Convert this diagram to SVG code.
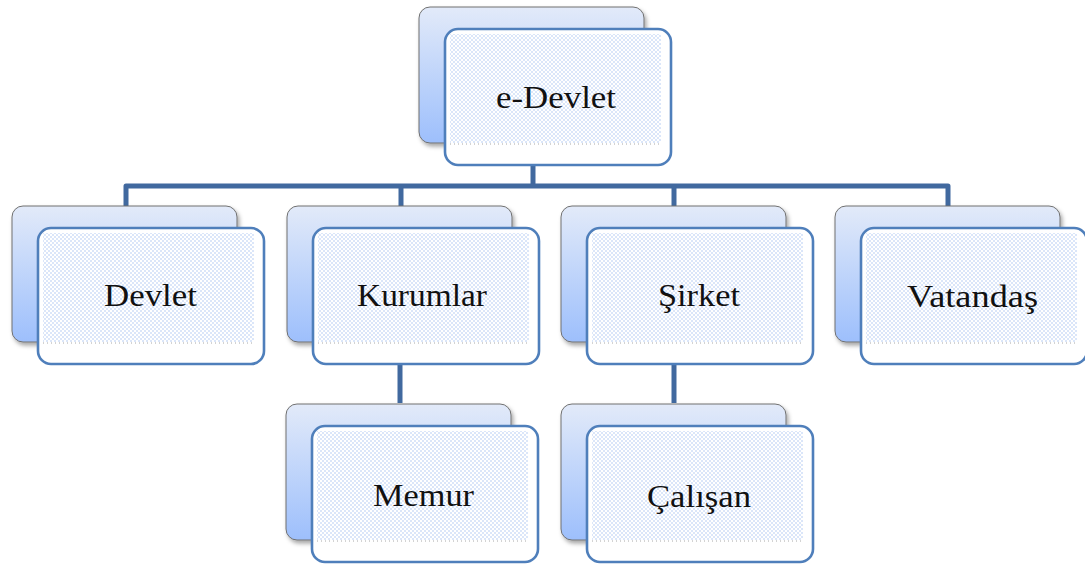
<svg xmlns="http://www.w3.org/2000/svg" width="1085" height="566" viewBox="0 0 1085 566">
<defs>
<linearGradient id="backGrad" x1="0" y1="0" x2="0" y2="1">
<stop offset="0" stop-color="#e2eaf9"/>
<stop offset="1" stop-color="#9dbffc"/>
</linearGradient>
<pattern id="dots" width="4" height="4" patternUnits="userSpaceOnUse">
<rect width="4" height="4" fill="#ffffff"/>
<circle cx="1" cy="1" r="0.8" fill="#adc7f2"/>
<circle cx="3" cy="3" r="0.8" fill="#adc7f2"/>
</pattern>
<filter id="shadow" x="-10%" y="-10%" width="125%" height="130%">
<feDropShadow dx="2" dy="3" stdDeviation="2" flood-color="#000" flood-opacity="0.35"/>
</filter>
<g id="card">
<rect class="back" x="0" y="0" width="225" height="136" rx="11"/>
<rect class="front" x="26" y="22" width="226" height="136" rx="13"/>
<rect class="tex" x="31" y="27" width="211" height="109"/>
<line class="dash" x1="31" y1="137" x2="242" y2="137"/>
</g>
</defs>
<style>
.back{fill:url(#backGrad);stroke:#707070;stroke-width:1;filter:url(#shadow)}
.front{fill:#ffffff;stroke:#4f7fbb;stroke-width:2.6}
.tex{fill:url(#dots)}
.dash{stroke:#a8a8a8;stroke-width:1;stroke-dasharray:1 3}
.conn{fill:none;stroke:#41699f;stroke-width:5;stroke-linejoin:round}
.lbl{font-family:"Liberation Serif","Times New Roman",serif;font-size:31px;fill:#111111;text-anchor:middle}
</style>
<g id="connectors">
<path class="conn" d="M533 166 V186"/>
<path class="conn" d="M126 206 V186 H948 V206"/>
<path class="conn" d="M401 186 V206"/>
<path class="conn" d="M674 186 V206"/>
<path class="conn" d="M400 365 V403"/>
<path class="conn" d="M674 365 V403"/>
</g>
<g id="node-edevlet">
<use href="#card" x="419" y="7"/>
<text class="lbl" x="556" y="108" textLength="120" lengthAdjust="spacingAndGlyphs">e-Devlet</text>
</g>
<g id="node-devlet">
<use href="#card" x="12" y="206"/>
<text class="lbl" x="150.5" y="306" textLength="93" lengthAdjust="spacingAndGlyphs">Devlet</text>
</g>
<g id="node-kurumlar">
<use href="#card" x="287" y="206"/>
<text class="lbl" x="422" y="306" textLength="130" lengthAdjust="spacingAndGlyphs">Kurumlar</text>
</g>
<g id="node-sirket">
<use href="#card" x="561" y="206"/>
<text class="lbl" x="699" y="306" textLength="82" lengthAdjust="spacingAndGlyphs">Şirket</text>
</g>
<g id="node-vatandas">
<use href="#card" x="835" y="206"/>
<text class="lbl" x="972.5" y="307" textLength="131" lengthAdjust="spacingAndGlyphs">Vatandaş</text>
</g>
<g id="node-memur">
<use href="#card" x="286" y="404"/>
<text class="lbl" x="423.5" y="506" textLength="101" lengthAdjust="spacingAndGlyphs">Memur</text>
</g>
<g id="node-calisan">
<use href="#card" x="561" y="404"/>
<text class="lbl" x="699" y="507" textLength="104" lengthAdjust="spacingAndGlyphs">Çalışan</text>
</g>
</svg>
